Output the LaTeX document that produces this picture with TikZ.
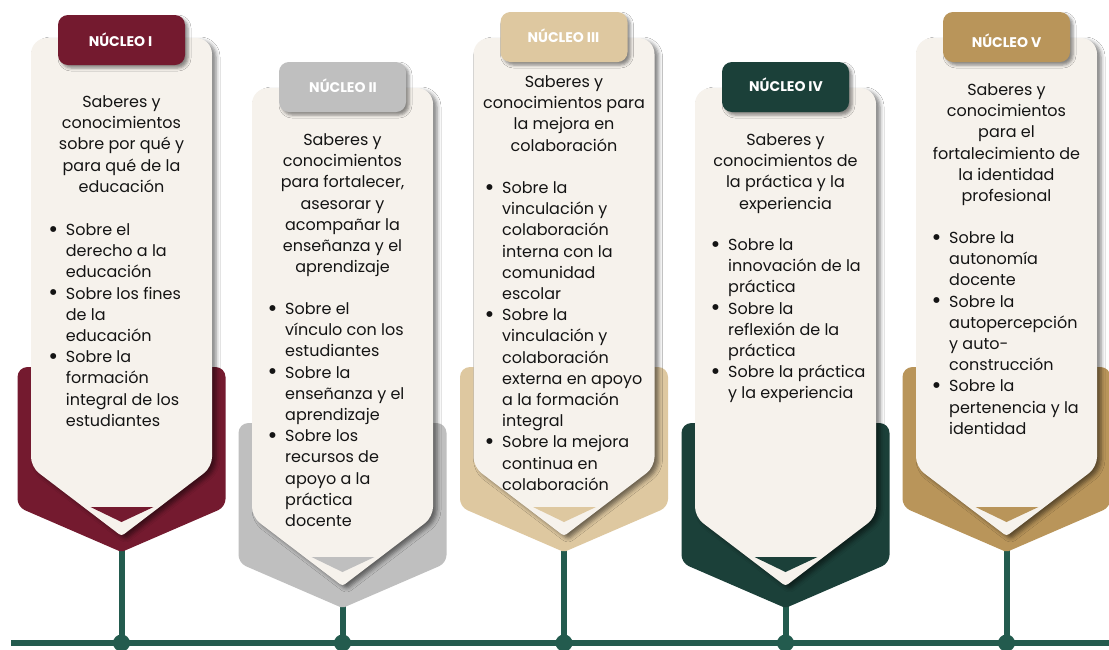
\documentclass[tikz,border=0pt]{standalone}
\usepackage{fontspec}
\setmainfont{Poppins}
\usetikzlibrary{shadows.blur}
\definecolor{cream}{HTML}{F6F2EC}
\definecolor{cmaroon}{HTML}{741A2F}
\definecolor{cgrey}{HTML}{BFBFBF}
\definecolor{cbeige}{HTML}{DEC8A0}
\definecolor{cdgreen}{HTML}{1B4039}
\definecolor{cgold}{HTML}{B9955A}
\definecolor{lineg}{HTML}{235B4E}
\definecolor{txt}{HTML}{141414}
\newcommand\bodyfont{\fontsize{16}{21.2}\selectfont}
\tikzset{
  hdr/.style={align=center, inner sep=0pt, anchor=north, font=\bodyfont, text=txt},
  bul/.style={inner sep=0pt, anchor=north west, font=\bodyfont, text=txt},
  tablab/.style={font=\fontsize{14}{16}\selectfont\bfseries, text=white, inner sep=0pt, anchor=base},
  conn/.style={draw=lineg, line width=6pt},
  dotnode/.style={circle, fill=lineg, minimum size=17pt, inner sep=0pt},
  cardshadow/.style={blur shadow={shadow xshift=4pt, shadow yshift=-3pt, shadow blur radius=4pt, shadow opacity=50}},
  tabshadow/.style={blur shadow={shadow xshift=3pt, shadow yshift=-3pt, shadow blur radius=3pt, shadow opacity=45}},
}
% #1 cx, #2 dy cream, #3 dy pentagon, #4 colour, #5 tab top
\newcommand\mkcard[5]{%
  \fill[#4] (#1,367+#3) [rounded corners=10pt] -- (#1+104,367+#3) [rounded corners=8pt] -- (#1+104,507+#3) [rounded corners=2pt] -- (#1,552+#3) [rounded corners=8pt] -- (#1-104,507+#3) [rounded corners=10pt] -- (#1-104,367+#3) -- cycle;
  \fill[cream, cardshadow] (#1,38+#2) [rounded corners=16pt] -- (#1+90.5,38+#2) [rounded corners=10pt] -- (#1+90.5,467+#2) [rounded corners=3pt] -- (#1,536+#2) [rounded corners=10pt] -- (#1-90.5,467+#2) [rounded corners=16pt] -- (#1-90.5,38+#2) -- cycle;
  \fill[#4] (#1-31,507+#2) -- (#1+32,507+#2) -- (#1,522+#2) -- cycle;
  \fill[#4, tabshadow, rounded corners=10pt] (#1-63.5,#5) rectangle (#1+63.5,#5+50);
}
\newcommand\bu{\raisebox{-1.6pt}{\scalebox{1.5}{\textbullet}}}
\begin{document}
\begin{tikzpicture}[x=1pt,y=-1pt]
\useasboundingbox (0,0) rectangle (1109,649);
\fill[white] (0,0) rectangle (1109,649);
% timeline
\coordinate (hl) at (11,643);
\coordinate (hr) at (1115,643);
\draw[conn] (hl) -- (hr);
\foreach \i/\cx/\ty in {1/121.5/552,2/342.5/608,3/564/552,4/785.5/608,5/1006.5/552} {
  \coordinate (tip\i) at (\cx,\ty-6);
  \node[dotnode] (dot\i) at (\cx,643) {};
  \draw[conn] (tip\i) -- (dot\i.center);
}
% cards
\mkcard{121.5}{0}{0}{cmaroon}{15}
\mkcard{342.5}{50}{56}{cgrey}{62}
\mkcard{564}{0}{0}{cbeige}{12}
\mkcard{785.5}{50}{56}{cdgreen}{62}
\mkcard{1006.5}{0}{0}{cgold}{12}
% tab labels
\node[tablab] (t1) at (120.5,46) {NÚCLEO I};
\node[tablab] (t2) at (343,92) {NÚCLEO II};
\node[tablab] (t3) at (563.5,42) {NÚCLEO III};
\node[tablab] (t4) at (786,91) {NÚCLEO IV};
\node[tablab] (t5) at (1006.5,47) {NÚCLEO V};
% headers
\node[hdr] (h1) at (121.5,92.5) {\strut Saberes y\\conocimientos\\sobre por qué y\\para qué de la\\educación};
\node[hdr] (h2) at (342.5,130.5) {\strut Saberes y\\conocimientos\\para fortalecer,\\asesorar y\\acompañar la\\enseñanza y el\\aprendizaje};
\node[hdr] (h3) at (564,72.5) {\strut Saberes y\\conocimientos para\\la mejora en\\colaboración};
\node[hdr] (h4) at (785.5,130.5) {\strut Saberes y\\conocimientos de\\la práctica y la\\experiencia};
\node[hdr] (h5) at (1006.5,80.5) {\strut Saberes y\\conocimientos\\para el\\fortalecimiento de\\la identidad\\profesional};
% bullets
\node[bul] (b1) at (48.2,220.5) {\begin{tabular}{@{}p{17.5pt}@{}l@{}}
\bu & Sobre el\\ & derecho a la\\ & educación\\
\bu & Sobre los fines\\ & de la\\ & educación\\
\bu & Sobre la\\ & formación\\ & integral de los\\ & estudiantes
\end{tabular}};
\node[bul] (b2) at (267.5,299.5) {\begin{tabular}{@{}p{17.5pt}@{}l@{}}
\bu & Sobre el\\ & vínculo con los\\ & estudiantes\\
\bu & Sobre la\\ & enseñanza y el\\ & aprendizaje\\
\bu & Sobre los\\ & recursos de\\ & apoyo a la\\ & práctica\\ & docente
\end{tabular}};
\node[bul] (b3) at (484.5,178.5) {\begin{tabular}{@{}p{17.5pt}@{}l@{}}
\bu & Sobre la\\ & vinculación y\\ & colaboración\\ & interna con la\\ & comunidad\\ & escolar\\
\bu & Sobre la\\ & vinculación y\\ & colaboración\\ & externa en apoyo\\ & a la formación\\ & integral\\
\bu & Sobre la mejora\\ & continua en\\ & colaboración
\end{tabular}};
\node[bul] (b4) at (710.5,235.5) {\begin{tabular}{@{}p{17.5pt}@{}l@{}}
\bu & Sobre la\\ & innovación de la\\ & práctica\\
\bu & Sobre la\\ & reflexión de la\\ & práctica\\
\bu & Sobre la práctica\\ & y la experiencia
\end{tabular}};
\node[bul] (b5) at (931.5,228.5) {\begin{tabular}{@{}p{17.5pt}@{}l@{}}
\bu & Sobre la\\ & autonomía\\ & docente\\
\bu & Sobre la\\ & autopercepción\\ & y auto-\\ & construcción\\
\bu & Sobre la\\ & pertenencia y la\\ & identidad
\end{tabular}};
\end{tikzpicture}
\end{document}
